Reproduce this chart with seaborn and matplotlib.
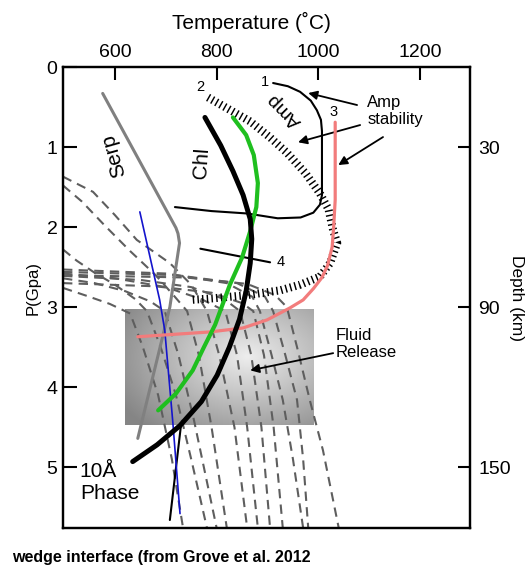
import numpy as np
import matplotlib
matplotlib.use("Agg")
import matplotlib.pyplot as plt
import seaborn as sns

sns.set_theme(style="white")
plt.rcParams['font.family'] = ['Liberation Sans', 'DejaVu Sans']
plt.rcParams['text.color'] = 'black'
plt.rcParams['axes.labelcolor'] = 'black'

# ---------------- data (T in deg C, P in GPa) ----------------
serp_T = [576, 720, 724, 727, 708, 645]
serp_P = [0.33, 2.01, 2.08, 2.2, 3.0, 4.64]

chl_T = [777, 808, 832, 852, 866, 869, 866, 858, 845, 825, 801, 770, 728, 683, 635]
chl_P = [0.63, 0.98, 1.3, 1.6, 1.9, 2.15, 2.45, 2.8, 3.15, 3.5, 3.85, 4.18, 4.48, 4.72, 4.93]

green_T = [832, 858, 873, 881, 878, 866, 850, 826, 797, 775, 753, 720, 685]
green_P = [0.63, 0.85, 1.1, 1.45, 1.75, 2.05, 2.38, 2.72, 3.22, 3.5, 3.79, 4.08, 4.29]

pink_T = [1033, 1033, 1030, 1027, 1018, 1007, 990, 970, 944, 899, 852, 787, 645]
pink_P = [0.69, 1.66, 2.0, 2.25, 2.48, 2.63, 2.77, 2.91, 3.01, 3.16, 3.26, 3.31, 3.37]

blue_T = [649, 688, 698, 714, 728]
blue_P = [1.81, 2.91, 3.29, 4.45, 5.58]

tenA_T = [730, 708]
tenA_P = [4.47, 5.66]

amp1_T = [911, 940, 964, 985, 997, 1005, 1007, 1007, 1003, 990, 965, 920, 860, 790, 718]
amp1_P = [0.2, 0.24, 0.31, 0.42, 0.54, 0.66, 0.8, 1.6, 1.72, 1.82, 1.88, 1.89, 1.83, 1.8, 1.75]

line4_T = [768, 905]
line4_P = [2.27, 2.44]

amp2_T = [783, 830, 866, 905, 938, 975, 1003, 1020, 1029, 1037, 1023, 1003, 964, 925, 860, 793, 748]
amp2_P = [0.38, 0.55, 0.68, 0.88, 1.07, 1.33, 1.58, 1.78, 2.04, 2.2, 2.45, 2.62, 2.72, 2.79, 2.85, 2.89, 2.91]

geo_T = [
    [498, 545, 590, 630, 655, 685, 712, 734],
    [498, 525, 560, 600, 640, 663, 690, 720, 750, 781],
    [498, 560, 620, 670, 698, 725, 755, 800],
    [498, 535, 580, 630, 680, 715, 742, 765, 790, 820],
    [498, 557, 600, 643, 708, 750, 781, 805, 835, 860],
    [498, 600, 700, 770, 817, 840, 860, 881],
    [498, 650, 750, 815, 846, 868, 888, 905],
    [498, 680, 790, 850, 872, 893, 912, 930],
    [498, 700, 820, 870, 885, 908, 930, 950, 970],
    [498, 720, 840, 895, 911, 935, 958, 970, 980],
    [498, 740, 860, 915, 938, 960, 983, 1009, 1040],
]
geo_P = [
    [2.76, 2.86, 2.96, 3.08, 3.5, 4.1, 4.9, 5.76],
    [2.28, 2.42, 2.57, 2.72, 2.9, 3.05, 3.5, 4.1, 4.9, 5.76],
    [2.64, 2.7, 2.8, 2.93, 3.05, 3.6, 4.4, 5.76],
    [1.48, 1.68, 1.98, 2.3, 2.6, 2.85, 3.05, 3.6, 4.5, 5.76],
    [1.37, 1.56, 1.85, 2.16, 2.45, 2.72, 3.05, 3.6, 4.5, 5.76],
    [2.58, 2.64, 2.75, 2.9, 3.05, 3.6, 4.5, 5.76],
    [2.61, 2.66, 2.75, 2.9, 3.05, 3.6, 4.5, 5.76],
    [2.7, 2.74, 2.82, 2.95, 3.05, 3.6, 4.5, 5.76],
    [2.53, 2.58, 2.7, 2.87, 3.05, 3.6, 4.16, 4.9, 5.76],
    [2.56, 2.6, 2.7, 2.87, 3.05, 3.6, 4.16, 4.9, 5.76],
    [2.6, 2.63, 2.71, 2.85, 3.0, 3.55, 4.16, 4.79, 5.76],
]

fluid_box_T = [620, 991]
fluid_box_P = [3.03, 4.475]

temp_ticks = [600, 800, 1000, 1200]
p_ticks = [0, 1, 2, 3, 4, 5]
depth_ticks = [30, 90, 150]

# ---------------- figure ----------------
fig = plt.figure(figsize=(5.29, 5.66), dpi=100)
ax = fig.add_axes([0.1191, 0.0671, 0.7694, 0.8145])

# fluid release box with radial gradient
gx = np.linspace(fluid_box_T[0], fluid_box_T[1], 200)
gy = np.linspace(fluid_box_P[0], fluid_box_P[1], 120)
GX, GY = np.meshgrid(gx, gy)
r = np.sqrt(((GX - 860) / 210) ** 2 + ((GY - 3.62) / 0.9) ** 2)
img = np.clip(0.93 - 0.3 * r, 0.52, 1.0)
ax.imshow(img, cmap='gray', vmin=0, vmax=1, aspect='auto', zorder=0,
          extent=(fluid_box_T[0], fluid_box_T[1], fluid_box_P[1], fluid_box_P[0]),
          interpolation='bilinear')

geo_color = '#5e5e5e'
for T, P in zip(geo_T, geo_P):
    sns.lineplot(x=T, y=P, sort=False, estimator=None, ax=ax, color=geo_color,
                 linewidth=1.5, linestyle=(0, (4.5, 3.0)), zorder=2)

sns.lineplot(x=serp_T, y=serp_P, sort=False, estimator=None, ax=ax, color='#808080', linewidth=2.2, zorder=3)
sns.lineplot(x=amp2_T, y=amp2_P, sort=False, estimator=None, ax=ax, color='black',
             linewidth=5.8, linestyle=(0, (0.18, 0.4)), zorder=3)
sns.lineplot(x=amp1_T, y=amp1_P, sort=False, estimator=None, ax=ax, color='black', linewidth=1.5, zorder=4)
sns.lineplot(x=line4_T, y=line4_P, sort=False, estimator=None, ax=ax, color='black', linewidth=1.5, zorder=4)
sns.lineplot(x=tenA_T, y=tenA_P, sort=False, estimator=None, ax=ax, color='black', linewidth=1.5, zorder=4)
sns.lineplot(x=blue_T, y=blue_P, sort=False, estimator=None, ax=ax, color='#1414cc', linewidth=1.2, zorder=5)
sns.lineplot(x=pink_T, y=pink_P, sort=False, estimator=None, ax=ax, color='#f27c7c', linewidth=2.3, zorder=5)
sns.lineplot(x=green_T, y=green_P, sort=False, estimator=None, ax=ax, color='#1fbf1f', linewidth=3.0, zorder=6)
sns.lineplot(x=chl_T, y=chl_P, sort=False, estimator=None, ax=ax, color='black', linewidth=3.6, zorder=7)

# ---------------- axes ----------------
ax.set_xlim(498, 1298)
ax.set_ylim(5.76, 0)
ax.set_xlabel('')
ax.set_ylabel('')
ax.xaxis.tick_top()
ax.set_xticks(temp_ticks)
ax.set_xticklabels([str(t) for t in temp_ticks])
ax.set_yticks(p_ticks)
ax.set_yticklabels([str(p) for p in p_ticks])
ax.tick_params(axis='x', which='both', direction='in', length=9, width=1.5, pad=4,
               labelsize=14, top=True, bottom=False, labeltop=True, labelbottom=False, colors='black')
ax.tick_params(axis='y', direction='in', length=10, width=1.5, pad=4, labelsize=14,
               left=True, right=False, colors='black')
for s in ax.spines.values():
    s.set_linewidth(1.6)
    s.set_color('black')
    s.set_visible(True)

ax2 = ax.twinx()
ax2.set_ylim(5.76 * 30, 0)
ax2.set_yticks(depth_ticks)
ax2.set_yticklabels([str(d) for d in depth_ticks])
ax2.tick_params(axis='y', direction='in', length=9, width=1.5, pad=6, labelsize=14,
                right=True, left=False, colors='black')
for s in ax2.spines.values():
    s.set_linewidth(1.6)
    s.set_color('black')
ax2.grid(False)
ax.grid(False)

# ---------------- labels ----------------
fig.text(0.4745, 0.961, 'Temperature (˚C)', ha='center', va='center', fontsize=15, color='black')
fig.text(0.0624, 0.491, 'P(Gpa)', ha='center', va='center', fontsize=12, rotation=90, color='black')
fig.text(0.977, 0.473, 'Depth (km)', ha='center', va='center', fontsize=12.5, rotation=270, color='black')
fig.text(0.0227, 0.0155, 'wedge interface (from Grove et al. 2012', ha='left', va='center',
         fontsize=11.5, fontweight='bold', color='black')

ax.text(598, 1.1, 'Serp', rotation=106, ha='center', va='center', fontsize=15, zorder=8, color='black')
ax.text(771, 1.2, 'Chl', rotation=86, ha='center', va='center', fontsize=15, zorder=8, color='black')
ax.text(934, 0.54, 'Amp', rotation=135, ha='center', va='center', fontsize=14, zorder=8, color='black')
ax.text(895, 0.19, '1', ha='center', va='center', fontsize=10.5, color='black')
ax.text(767, 0.25, '2', ha='center', va='center', fontsize=10.5, color='black')
ax.text(1029, 0.56, '3', ha='center', va='center', fontsize=10.5, color='black')
ax.text(925, 2.44, '4', ha='center', va='center', fontsize=10.5, color='black')
ax.text(531, 5.19, '10Å\nPhase', ha='left', va='center', fontsize=15, linespacing=1.15, color='black')
ax.text(1096, 0.55, 'Amp\nstability', ha='left', va='center', fontsize=12, linespacing=1.1, color='black')
ax.text(1033, 3.46, 'Fluid\nRelease', ha='left', va='center', fontsize=12, linespacing=1.15, color='black')

arrow_kw = dict(arrowstyle='-|>', color='black', lw=1.3, mutation_scale=13, shrinkA=0, shrinkB=0)
ax.annotate('', xy=(980, 0.325), xytext=(1076, 0.475), arrowprops=arrow_kw)
ax.annotate('', xy=(960, 0.94), xytext=(1082, 0.725), arrowprops=arrow_kw)
ax.annotate('', xy=(1039, 1.225), xytext=(1127, 0.875), arrowprops=arrow_kw)
ax.annotate('', xy=(866, 3.79), xytext=(1029, 3.575), arrowprops=arrow_kw)

fig.savefig('out.png', dpi=100)
